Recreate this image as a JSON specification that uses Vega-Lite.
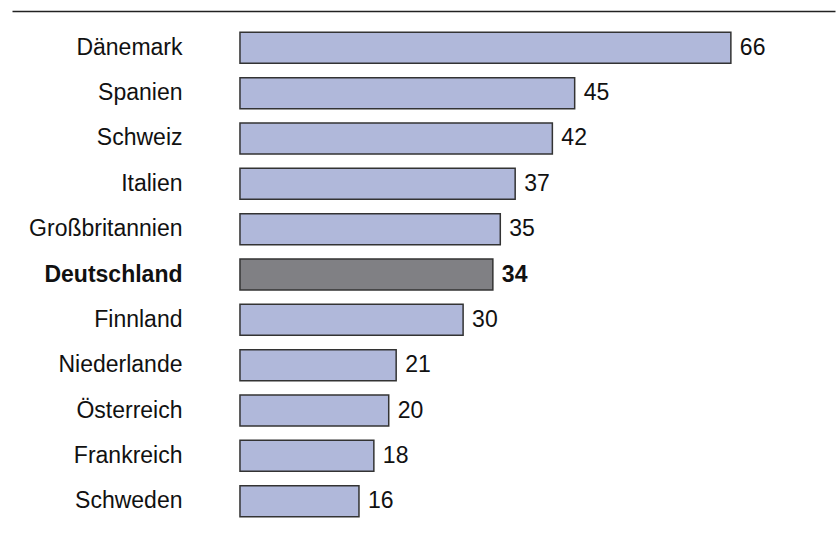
{
  "$schema": "https://vega.github.io/schema/vega-lite/v6.json",
  "autosize": "none",
  "width": 823,
  "height": 527,
  "padding": {"left": 12, "top": 11, "right": 4, "bottom": 8},
  "background": "white",
  "config": {"view": {"stroke": null}, "font": "Liberation Sans"},
  "data": {"values": [
    {"land": "Dänemark", "wert": 66},
    {"land": "Spanien", "wert": 45},
    {"land": "Schweiz", "wert": 42},
    {"land": "Italien", "wert": 37},
    {"land": "Großbritannien", "wert": 35},
    {"land": "Deutschland", "wert": 34},
    {"land": "Finnland", "wert": 30},
    {"land": "Niederlande", "wert": 21},
    {"land": "Österreich", "wert": 20},
    {"land": "Frankreich", "wert": 18},
    {"land": "Schweden", "wert": 16}
  ]},
  "encoding": {
    "y": {
      "field": "land", "type": "nominal", "sort": null,
      "scale": {"paddingInner": 0.316, "paddingOuter": 0.47},
      "axis": {
        "title": null, "domain": false, "ticks": false, "offset": -228,
        "labelPadding": 58, "labelFontSize": 23, "labelColor": "#111",
        "labelFont": "Liberation Sans",
        "labelFontWeight": {"condition": {"test": "datum.value === 'Deutschland'", "value": "bold"}, "value": "normal"}
      }
    },
    "x": {
      "field": "wert", "type": "quantitative",
      "scale": {"domain": [-30.65, 80], "nice": false, "zero": false},
      "axis": {"orient": "top", "title": null, "labels": false, "ticks": false, "grid": false, "domain": true, "domainColor": "#222", "domainWidth": 1.5}
    }
  },
  "layer": [
    {
      "mark": {"type": "bar", "stroke": "#333", "strokeWidth": 1.5},
      "encoding": {
        "x2": {"datum": 0},
        "color": {"condition": {"test": "datum.land === 'Deutschland'", "value": "#808084"}, "value": "#B0B8DA"}
      }
    },
    {
      "transform": [{"filter": "datum.land !== 'Deutschland'"}],
      "mark": {"type": "text", "align": "left", "baseline": "middle", "dx": 9, "fontSize": 23, "color": "#111"},
      "encoding": {"text": {"field": "wert", "type": "quantitative"}}
    },
    {
      "transform": [{"filter": "datum.land === 'Deutschland'"}],
      "mark": {"type": "text", "align": "left", "baseline": "middle", "dx": 9, "fontSize": 23, "fontWeight": "bold", "color": "#111"},
      "encoding": {"text": {"field": "wert", "type": "quantitative"}}
    }
  ]
}
